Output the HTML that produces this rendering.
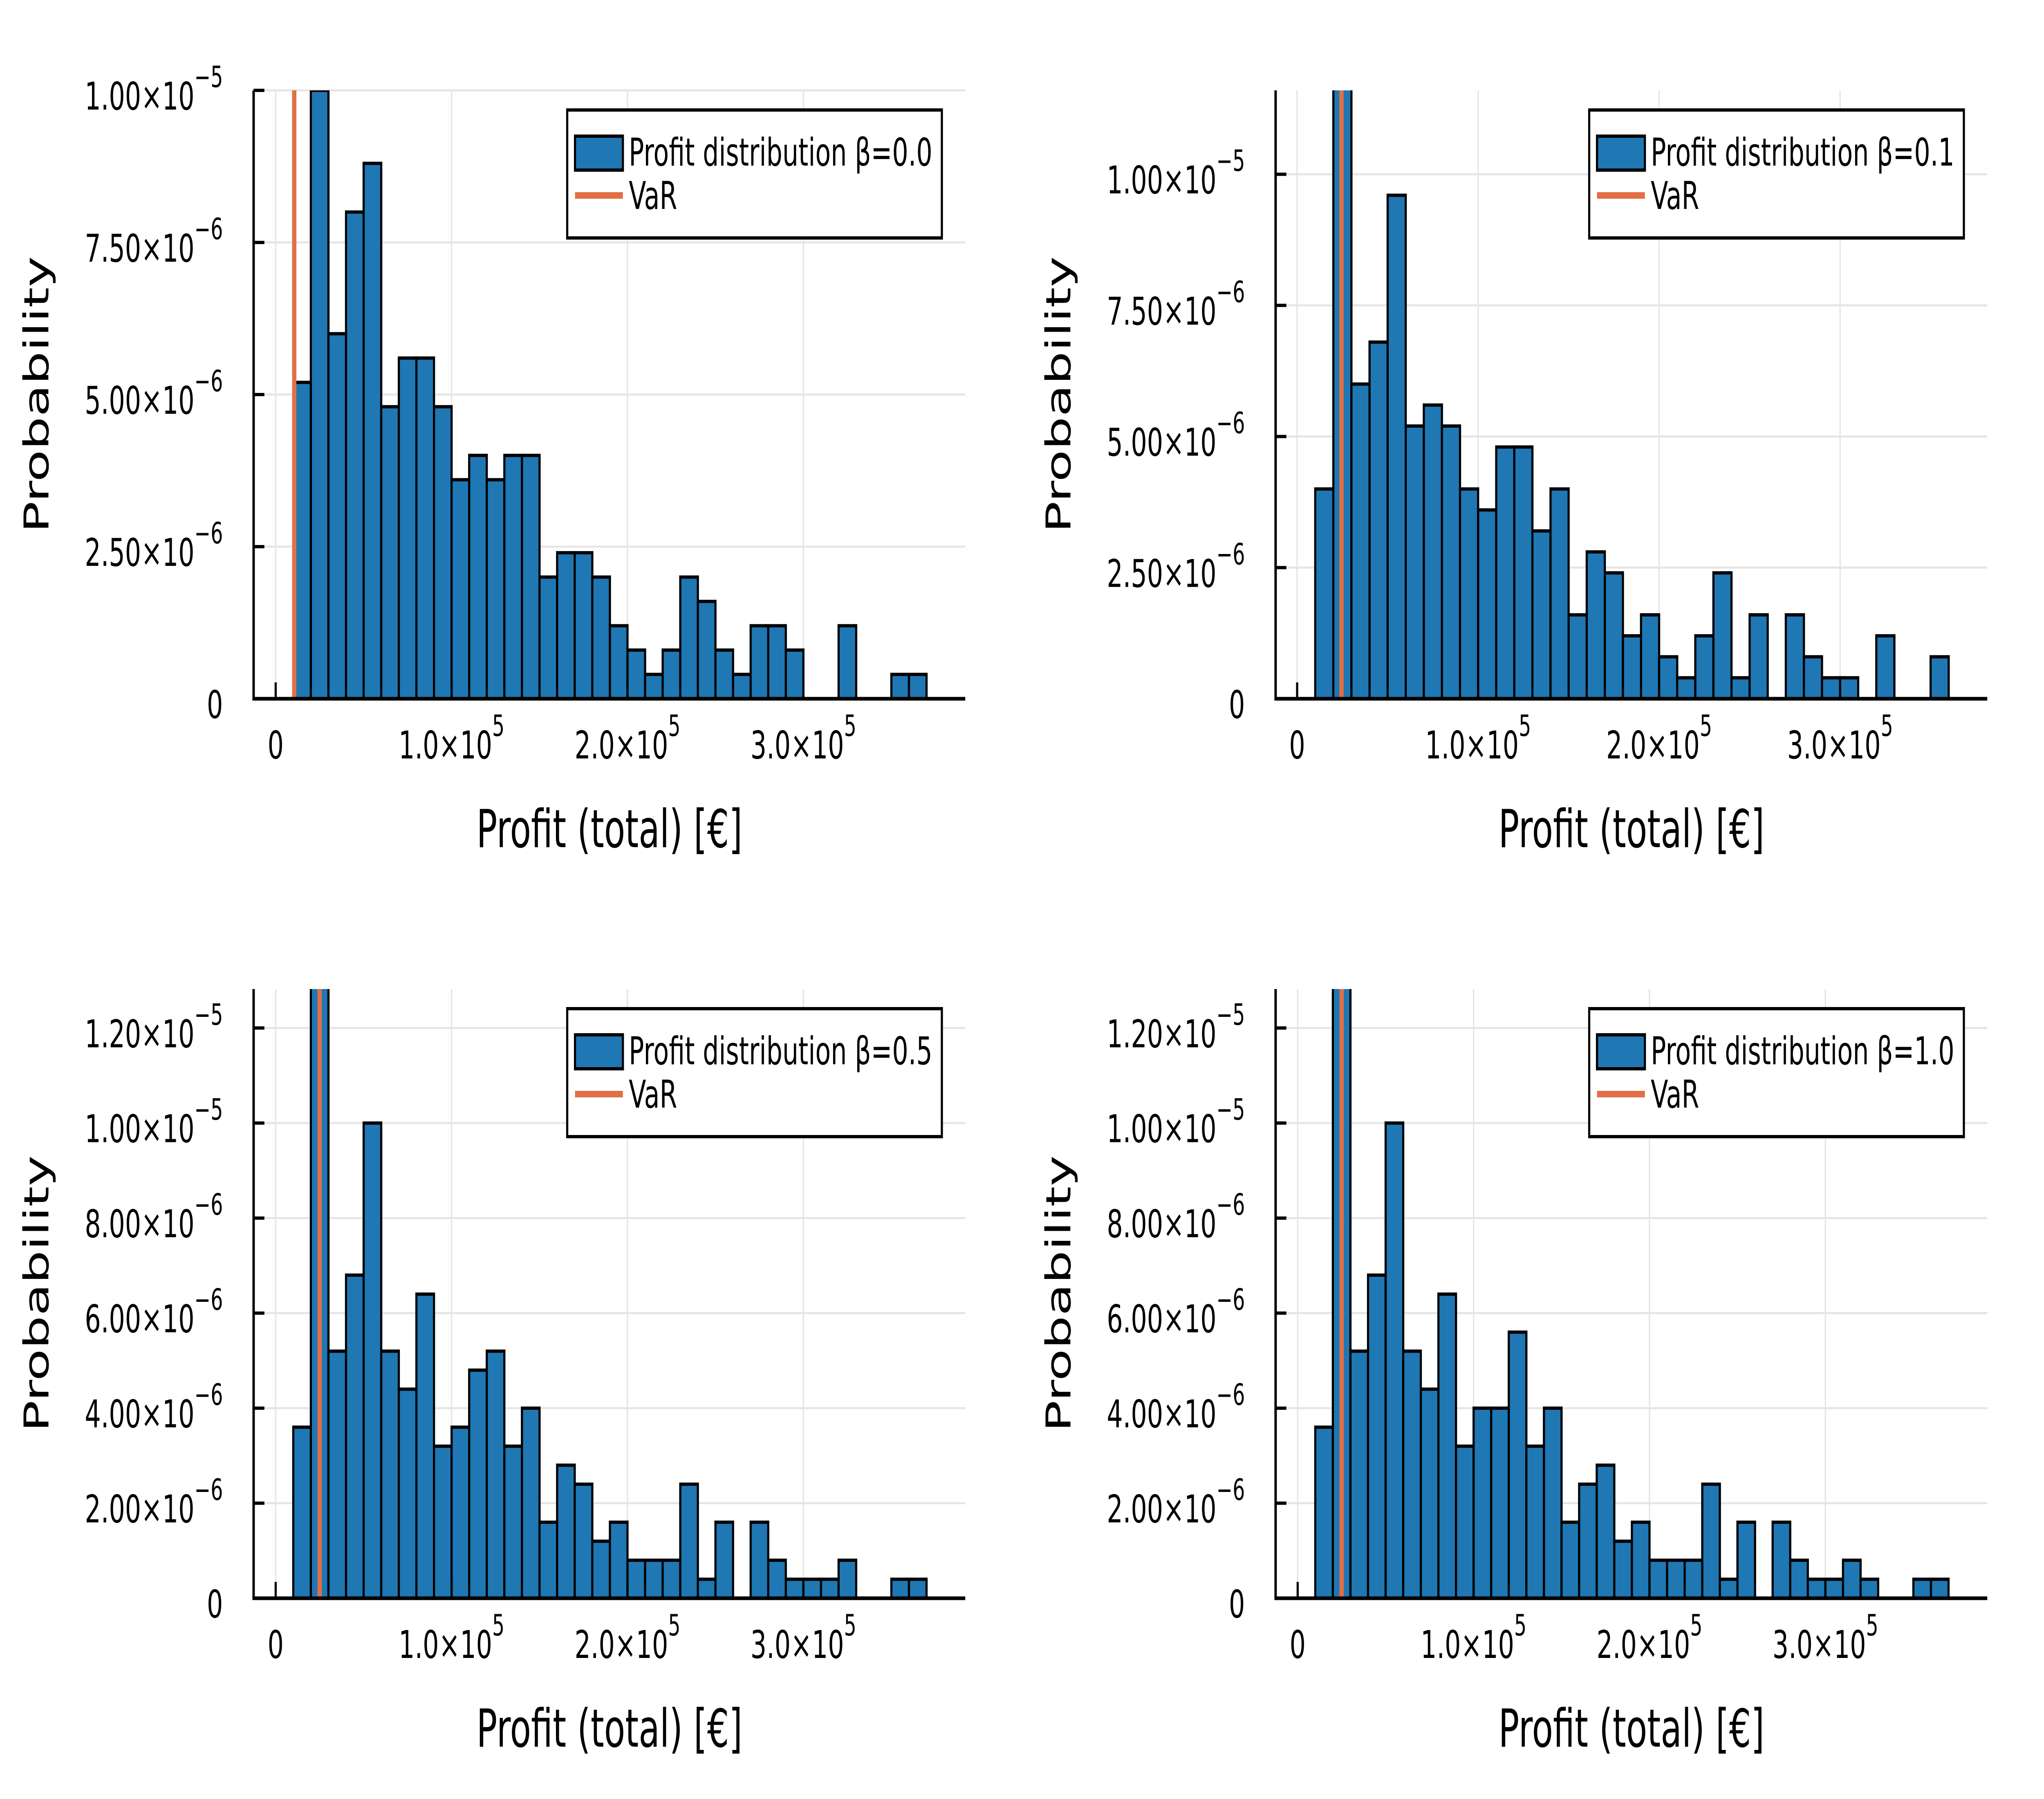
<!DOCTYPE html>
<html><head><meta charset="utf-8"><style>
html,body{margin:0;padding:0;background:#fff;width:100%;height:100%;overflow:hidden;}
svg{display:block;position:absolute;left:0;top:0;width:100vw;height:100vh;}
text{font-family:"DejaVu Sans","Liberation Sans",sans-serif;fill:#000;}
</style></head><body>
<svg id="fig" xmlns="http://www.w3.org/2000/svg" viewBox="0 0 7600 4400" preserveAspectRatio="none" overflow="hidden">
<rect x="0" y="0" width="7600" height="4400" fill="#fff"/>
</svg>
<script>
// Data (probability values in units of 1e-6), bins of width 1e4 starting at 1e4
const binStart = 10000;
const binWidth = 10000;
const probBeta00 = [5.2,10,6,8,8.8,4.8,5.6,5.6,4.8,3.6,4.0,3.6,4.0,4.0,2.0,2.4,2.4,2.0,1.2,0.8,0.4,0.8,2.0,1.6,0.8,0.4,1.2,1.2,0.8,0,0,1.2,0,0,0.4,0.4];
const probBeta01 = [4.0,14,6.0,6.8,9.6,5.2,5.6,5.2,4.0,3.6,4.8,4.8,3.2,4.0,1.6,2.8,2.4,1.2,1.6,0.8,0.4,1.2,2.4,0.4,1.6,0,1.6,0.8,0.4,0.4,0,1.2,0,0,0.8];
const probBeta05 = [3.6,14,5.2,6.8,10,5.2,4.4,6.4,3.2,3.6,4.8,5.2,3.2,4.0,1.6,2.8,2.4,1.2,1.6,0.8,0.8,0.8,2.4,0.4,1.6,0,1.6,0.8,0.4,0.4,0.4,0.8,0,0,0.4,0.4];
const probBeta10 = [3.6,14,5.2,6.8,10,5.2,4.4,6.4,3.2,4.0,4.0,5.6,3.2,4.0,1.6,2.4,2.8,1.2,1.6,0.8,0.8,0.8,2.4,0.4,1.6,0,1.6,0.8,0.4,0.4,0.8,0.4,0,0,0.4,0.4];
const varValues = [10550, 24500, 25000, 25000];
const betaLabels = ["0.0","0.1","0.5","1.0"];
const xTickValues = [0, 100000, 200000, 300000];
const xTickMant = ["0","1.0","2.0","3.0"];
const yTicks00 = [0, 2.5, 5, 7.5, 10];
const yTicks01 = [0, 2.5, 5, 7.5, 10];
const yTicks05 = [0, 2, 4, 6, 8, 10, 12];
const yTicks10 = [0, 2, 4, 6, 8, 10, 12];
const yTickLabels00 = [["0",""],["2.50","−6"],["5.00","−6"],["7.50","−6"],["1.00","−5"]];
const yTickLabels01 = yTickLabels00;
const yTickLabels05 = [["0",""],["2.00","−6"],["4.00","−6"],["6.00","−6"],["8.00","−6"],["1.00","−5"],["1.20","−5"]];
const yTickLabels10 = yTickLabels05;

const NS = "http://www.w3.org/2000/svg";
const svg = document.getElementById('fig');
function mk(tag, attrs, parent){
  const e = document.createElementNS(NS, tag);
  for (const k in attrs) e.setAttribute(k, attrs[k]);
  (parent||svg).appendChild(e);
  return e;
}
const panels = [
  {L:943, R:3589, T:221, B:1709, xd:[-12540,392000], yd:[0,10.0], data:probBeta00, yt:yTicks00, yl:yTickLabels00},
  {L:4743,R:7389, T:221, B:1709, xd:[-11890,381300], yd:[0,11.6], data:probBeta01, yt:yTicks01, yl:yTickLabels01},
  {L:943, R:3589, T:2419,B:3909, xd:[-12540,392000], yd:[0,12.82], data:probBeta05, yt:yTicks05, yl:yTickLabels05},
  {L:4743,R:7389, T:2419,B:3909, xd:[-12540,392000], yd:[0,12.82], data:probBeta10, yt:yTicks10, yl:yTickLabels10}
];
panels.forEach((p, pi) => {
  const g = mk('g', {});
  
  
  const xs = v => p.L + (v - p.xd[0]) / (p.xd[1] - p.xd[0]) * (p.R - p.L);
  const ys = v => p.B - (v - p.yd[0]) / (p.yd[1] - p.yd[0]) * (p.B - p.T);
  const cid = 'clip' + pi;
  const cp = mk('clipPath', {id: cid}, g);
  mk('rect', {x: p.L, y: p.T, width: p.R - p.L, height: p.B - p.T}, cp);
  xTickValues.forEach(v => {
    const l = mk('line', {x1: xs(v), x2: xs(v), y1: p.T, y2: p.B, stroke: '#e5e5e5', 'stroke-width': 5}, g);
    
    
  });
  p.yt.forEach(v => {
    const l = mk('line', {x1: p.L, x2: p.R, y1: ys(v), y2: ys(v), stroke: '#e5e5e5', 'stroke-width': 5}, g);
    
    
  });
  const bg = mk('g', {'clip-path': 'url(#' + cid + ')'}, g);
  p.data.forEach((v, i) => {
    if (v <= 0) return;
    const x0 = xs(binStart + i * binWidth), x1 = xs(binStart + (i + 1) * binWidth);
    const r = mk('rect', {x: x0, y: ys(v), width: x1 - x0, height: p.B - ys(v), fill: '#1f77b4', stroke: '#000', 'stroke-width': 8}, bg);
    
    
  });
  const vl = mk('line', {x1: xs(varValues[pi]), x2: xs(varValues[pi]), y1: p.T, y2: p.B, stroke: '#e26f46', 'stroke-width': 16}, g);
  
  
  const ax = mk('path', {d: `M${p.L},${p.T} L${p.L},${p.B} L${p.R},${p.B}`, fill: 'none', stroke: '#000', 'stroke-width': 9}, g);
  
  
  xTickValues.forEach((v, i) => {
    const x = xs(v);
    const t = mk('line', {x1: x, x2: x, y1: p.B, y2: p.B - 40, stroke: '#000', 'stroke-width': 8}, g);
    
    
    const tx = mk('text', {x: x, y: p.B + 146, 'font-size': 94, 'text-anchor': 'middle'}, g);
    
    
    if (v === 0) { tx.textContent = '0'; }
    else {
      tx.appendChild(document.createTextNode(xTickMant[i] + '×10'));
      const s = mk('tspan', {'font-size': 72, dy: -55}, tx);
      s.textContent = '5';
    }
  });
  p.yt.forEach((v, i) => {
    const y = ys(v);
    const t = mk('line', {x1: p.L, x2: p.L + 40, y1: y, y2: y, stroke: '#000', 'stroke-width': 8}, g);
    
    
    const tx = mk('text', {x: p.L - 114, y: y + 47, 'font-size': 94, 'text-anchor': 'end'}, g);
    
    
    const lab = p.yl[i];
    if (lab[1] === '') { tx.textContent = lab[0]; }
    else {
      tx.appendChild(document.createTextNode(lab[0] + '×10'));
      const s = mk('tspan', {'font-size': 72, dy: -55}, tx);
      s.textContent = lab[1];
    }
  });
  const xt = mk('text', {x: (p.L + p.R) / 2, y: p.B + 363, 'font-size': 128, 'text-anchor': 'middle'}, g);
  
  
  xt.textContent = 'Profit (total) [€]';
  const cy = (p.T + p.B) / 2, tx0 = p.L - 763;
  const yt = mk('text', {x: tx0, y: cy, 'font-size': 128, 'text-anchor': 'middle', transform: `rotate(-90 ${tx0} ${cy})`}, g);
  
  
  yt.textContent = 'Probability';
  const bx = p.L + 1166, by = p.T + 48;
  const lg = mk('g', {}, g);
  
  
  mk('rect', {x: bx, y: by, width: 1393, height: 313, fill: '#fff', stroke: '#000', 'stroke-width': 8}, lg);
  const pt = mk('rect', {x: bx + 29, y: by + 64, width: 178, height: 83, fill: '#1f77b4', stroke: '#000', 'stroke-width': 8}, lg);
  
  
  const t1 = mk('text', {x: bx + 229, y: by + 136, 'font-size': 94}, lg);
  
  
  t1.textContent = 'Profit distribution β=' + betaLabels[pi];
  const ll = mk('line', {x1: bx + 29, x2: bx + 207, y1: by + 209, y2: by + 209, stroke: '#e26f46', 'stroke-width': 16}, lg);
  
  
  const t2 = mk('text', {x: bx + 229, y: by + 242, 'font-size': 94}, lg);
  
  
  t2.textContent = 'VaR';
});
</script>
</body></html>
